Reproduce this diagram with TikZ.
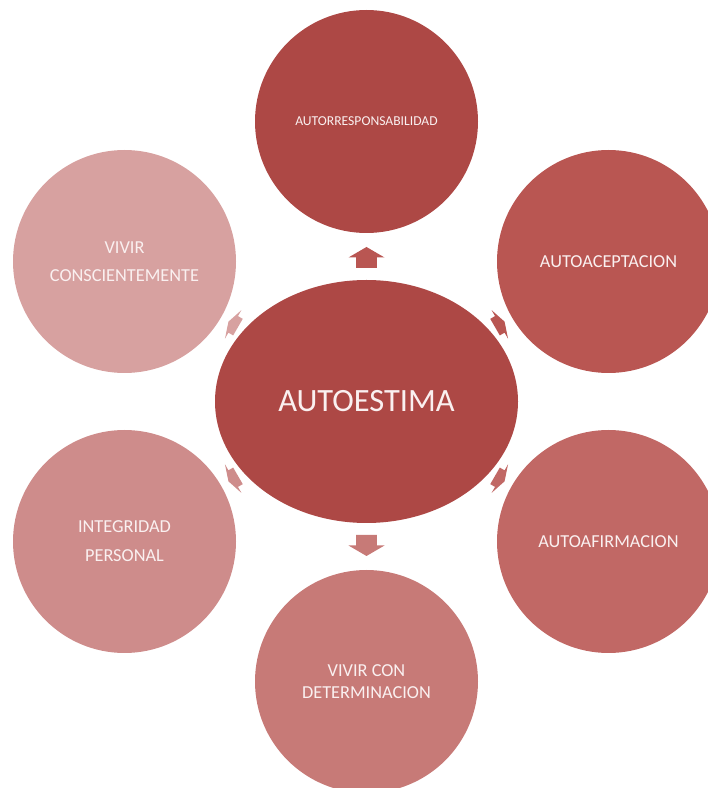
\documentclass[tikz,border=0pt]{standalone}
\usepackage{fontspec}
\setmainfont{Carlito}
\usetikzlibrary{shapes.geometric, calc, positioning}

\definecolor{tono1}{HTML}{AD4845}
\definecolor{tono2}{HTML}{B95652}
\definecolor{tono3}{HTML}{C16865}
\definecolor{tono4}{HTML}{C77A77}
\definecolor{tono5}{HTML}{CE8C8B}
\definecolor{tono6}{HTML}{D7A1A0}
\definecolor{letra}{HTML}{FAF0F0}

\tikzset{
	circulo/.style={circle, fill=#1, minimum size=223pt, inner sep=0pt, align=center, text=letra, font=\fontsize{18.3}{28}\selectfont},
	pics/flecha/.style n args={3}{code={
		\fill[#3] (-#1/2,-0.29*#2) -- (0,-0.29*#2) -- (0,-#2/2) -- (#1/2,0) -- (0,#2/2) -- (0,0.29*#2) -- (-#1/2,0.29*#2) -- cycle;
	}}
}

\begin{document}
\begin{tikzpicture}[x=1pt, y=1pt]

	\path[use as bounding box, clip] (0,0) rectangle (708,788);

	\node [ellipse, fill=tono1, minimum width=303pt, minimum height=243pt, inner sep=0pt, text=letra, font=\fontsize{32.5}{36}\selectfont] (centro) at (366.5,386.5) {AUTOESTIMA};

	\node [circulo=tono1, font=\fontsize{13.6}{16}\selectfont] 	(resp)	at (366.5,666.5)	{AUTORRESPONSABILIDAD};
	\node [circulo=tono2]	(acep)	at (608.5,526.5)	{AUTOACEPTACION};
	\node [circulo=tono3]	(afir)	at (608.5,246.5)	{AUTOAFIRMACION};
	\node [circulo=tono4, font=\fontsize{18.3}{21.7}\selectfont]	(deter)	at (366.5,106.5)	{VIVIR CON\\DETERMINACION};
	\node [circulo=tono5, font=\fontsize{18.3}{29}\selectfont]	(integ)	at (124.5,246.5)	{INTEGRIDAD\\PERSONAL};
	\node [circulo=tono6]	(consc)	at (124.5,526.5)	{VIVIR\\CONSCIENTEMENTE};

	% flechas de bloque hacia fuera
	\pic [rotate=90]	at ($(centro)!144pt!(resp)$)	{flecha={21}{36}{tono2}};
	\pic [rotate=30]	at ($(centro)!154pt!(acep)$)	{flecha={11}{33}{tono2}};
	\pic [rotate=-30]	at ($(centro)!154pt!(afir)$)	{flecha={11}{33}{tono3}};
	\pic [rotate=-90]	at ($(centro)!144pt!(deter)$)	{flecha={21}{36}{tono4}};
	\pic [rotate=210]	at ($(centro)!154pt!(integ)$)	{flecha={11}{33}{tono5}};
	\pic [rotate=150]	at ($(centro)!154pt!(consc)$)	{flecha={11}{33}{tono6}};

\end{tikzpicture}
\end{document}
